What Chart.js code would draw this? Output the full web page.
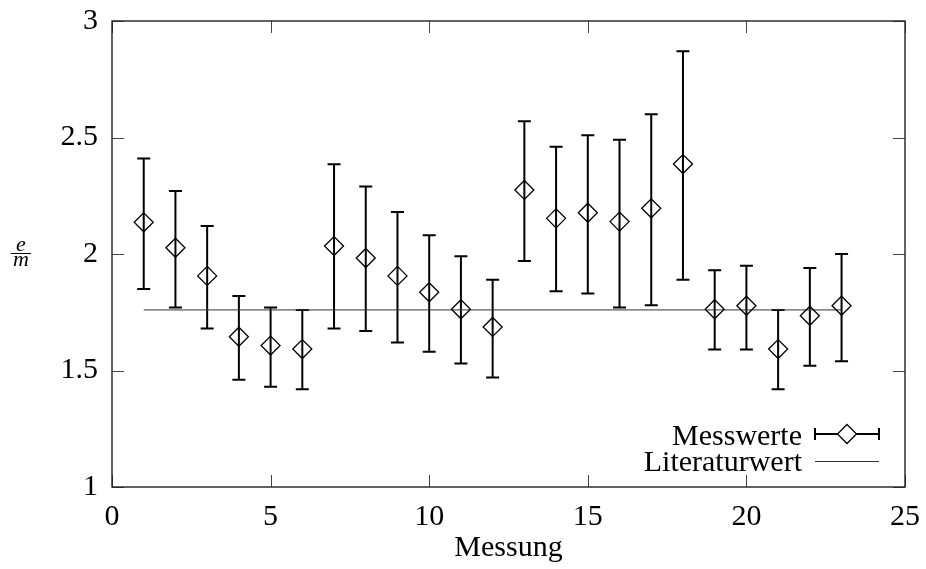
<!DOCTYPE html>
<html>
<head>
<meta charset="utf-8">
<script src="https://cdn.jsdelivr.net/npm/chart.js@4/dist/chart.umd.min.js"></script>
<style>
  html, body { margin: 0; padding: 0; background: #fff; }
  #wrap { width: 926px; height: 569px; }
</style>
</head>
<body>
<div id="wrap"><canvas id="c" width="926" height="569"></canvas></div>
<script>
// ---- data ----
const messung = [1,2,3,4,5,6,7,8,9,10,11,12,13,14,15,16,17,18,19,20,21,22,23];
const werte   = [2.136,2.027,1.906,1.645,1.607,1.592,2.034,1.983,1.906,1.836,1.763,1.687,2.275,2.153,2.177,2.139,2.196,2.386,1.763,1.778,1.592,1.735,1.778];
const oben    = [2.41,2.27,2.12,1.82,1.77,1.76,2.385,2.29,2.18,2.08,1.99,1.89,2.57,2.46,2.51,2.49,2.60,2.87,1.93,1.95,1.76,1.94,2.00];
const unten   = [1.85,1.77,1.68,1.46,1.43,1.42,1.68,1.67,1.62,1.58,1.53,1.47,1.97,1.84,1.83,1.77,1.78,1.89,1.59,1.59,1.42,1.52,1.54];
const literaturX = [1, 23];
const literaturY = [1.76, 1.76];
const xTicks = [0,5,10,15,20,25];
const yTicks = [1,1.5,2,2.5,3];
const seriesLabels = ['Messwerte', 'Literaturwert'];
const xTitle = 'Messung';
const yTitleNum = 'e';
const yTitleDen = 'm';

const SERIF = '"Liberation Serif", "DejaVu Serif", serif';
const FS = 30;

const messPoints = messung.map((x, i) => ({x: x, y: werte[i]}));
const litPoints = literaturX.map((x, i) => ({x: x, y: literaturY[i]}));

function drawDiamond(ctx, x, y, r) {
  ctx.beginPath();
  ctx.moveTo(x, y - r);
  ctx.lineTo(x + r, y);
  ctx.lineTo(x, y + r);
  ctx.lineTo(x - r, y);
  ctx.closePath();
  ctx.stroke();
}

const decor = {
  id: 'decor',
  beforeDatasetsDraw(chart) {
    const ctx = chart.ctx;
    const xs = chart.scales.x, ys = chart.scales.y;
    ctx.save();
    ctx.strokeStyle = '#000';
    ctx.lineWidth = 2;
    const cap = 6.5;
    for (let i = 0; i < messung.length; i++) {
      const px = xs.getPixelForValue(messung[i]);
      const pt = ys.getPixelForValue(oben[i]);
      const pb = ys.getPixelForValue(unten[i]);
      ctx.beginPath();
      ctx.moveTo(px, pt); ctx.lineTo(px, pb);
      ctx.moveTo(px - cap, pt); ctx.lineTo(px + cap, pt);
      ctx.moveTo(px - cap, pb); ctx.lineTo(px + cap, pb);
      ctx.stroke();
    }
    ctx.restore();
  },
  afterDraw(chart) {
    const ctx = chart.ctx;
    const a = chart.chartArea;
    const xs = chart.scales.x, ys = chart.scales.y;
    ctx.save();
    // tick marks on all four sides, inward
    ctx.strokeStyle = '#444';
    ctx.lineWidth = 1;
    const tl = 12;
    ctx.beginPath();
    xTicks.forEach(v => {
      const px = Math.round(xs.getPixelForValue(v)) + 0.5;
      ctx.moveTo(px, a.bottom); ctx.lineTo(px, a.bottom - tl);
      ctx.moveTo(px, a.top); ctx.lineTo(px, a.top + tl);
    });
    yTicks.forEach(v => {
      const py = Math.round(ys.getPixelForValue(v)) + 0.5;
      ctx.moveTo(a.left, py); ctx.lineTo(a.left + tl, py);
      ctx.moveTo(a.right, py); ctx.lineTo(a.right - tl, py);
    });
    ctx.stroke();
    // frame
    ctx.strokeStyle = '#222';
    ctx.lineWidth = 1.4;
    ctx.strokeRect(a.left, a.top, a.right - a.left, a.bottom - a.top);

    // y axis title as a fraction e/m
    ctx.fillStyle = '#000';
    ctx.font = 'italic 22px ' + SERIF;
    ctx.textAlign = 'center';
    ctx.textBaseline = 'alphabetic';
    const cy = (a.top + a.bottom) / 2;
    ctx.fillText(yTitleNum, 21, cy - 3);
    ctx.fillText(yTitleDen, 21, cy + 12);
    ctx.strokeStyle = '#000';
    ctx.lineWidth = 1;
    ctx.beginPath();
    ctx.moveTo(11, cy - 0.5); ctx.lineTo(31, cy - 0.5);
    ctx.stroke();

    // legend
    ctx.font = FS + 'px ' + SERIF;
    ctx.textAlign = 'right';
    ctx.fillStyle = '#000';
    const tx = a.right - 103;
    const y1 = a.bottom - 53, y2 = a.bottom - 26;
    ctx.fillText(seriesLabels[0], tx, y1 + 11);
    ctx.fillText(seriesLabels[1], tx, y2 + 10);
    const sx0 = a.right - 90, sx1 = a.right - 26;
    ctx.strokeStyle = '#000';
    ctx.lineWidth = 2;
    ctx.beginPath();
    ctx.moveTo(sx0, y1); ctx.lineTo(sx1, y1);
    ctx.moveTo(sx0, y1 - 6); ctx.lineTo(sx0, y1 + 6);
    ctx.moveTo(sx1, y1 - 6); ctx.lineTo(sx1, y1 + 6);
    ctx.stroke();
    ctx.fillStyle = '#fff';
    ctx.beginPath();
    const mx = (sx0 + sx1) / 2, r = 9.5;
    ctx.moveTo(mx, y1 - r); ctx.lineTo(mx + r, y1); ctx.lineTo(mx, y1 + r); ctx.lineTo(mx - r, y1); ctx.closePath();
    ctx.fill();
    ctx.lineWidth = 1.3;
    drawDiamond(ctx, mx, y1, r);
    ctx.strokeStyle = '#333';
    ctx.lineWidth = 1;
    ctx.beginPath();
    ctx.moveTo(sx0, y2 + 0.5); ctx.lineTo(sx1, y2 + 0.5);
    ctx.stroke();
    ctx.restore();
  }
};

new Chart(document.getElementById('c'), {
  type: 'scatter',
  data: {
    datasets: [
      {
        label: seriesLabels[0],
        data: messPoints,
        pointStyle: 'rectRot',
        pointRadius: 9.5,
        pointHoverRadius: 9.5,
        pointBorderWidth: 1.3,
        pointBorderColor: '#000',
        pointBackgroundColor: 'rgba(0,0,0,0)',
        showLine: false,
        order: 1
      },
      {
        label: seriesLabels[1],
        data: litPoints,
        type: 'line',
        showLine: true,
        borderColor: '#333',
        borderWidth: 1,
        pointRadius: 0,
        fill: false,
        order: 2
      }
    ]
  },
  options: {
    responsive: false,
    animation: false,
    events: [],
    layout: { padding: { left: 0, top: 21, right: 21, bottom: 0 } },
    plugins: { legend: { display: false }, tooltip: { enabled: false } },
    scales: {
      x: {
        type: 'linear',
        min: 0, max: 25,
        afterBuildTicks: s => { s.ticks = xTicks.map(v => ({value: v})); },
        afterFit: s => { s.height = 82; s.paddingLeft = 0; s.paddingRight = 0; },
        grid: { display: false, drawTicks: false },
        border: { display: false },
        ticks: { color: '#000', font: { family: SERIF, size: FS }, padding: 12, maxRotation: 0 },
        title: { display: true, text: xTitle, color: '#000', font: { family: SERIF, size: FS }, padding: { top: 0, bottom: 3 } }
      },
      y: {
        type: 'linear',
        min: 1, max: 3,
        afterBuildTicks: s => { s.ticks = yTicks.map(v => ({value: v})); },
        afterFit: s => { s.width = 112; s.paddingTop = 0; s.paddingBottom = 0; },
        grid: { display: false, drawTicks: false },
        border: { display: false },
        ticks: { color: '#000', font: { family: SERIF, size: FS }, padding: 14, callback: v => String(v) }
      }
    }
  },
  plugins: [decor]
});
</script>
</body>
</html>
